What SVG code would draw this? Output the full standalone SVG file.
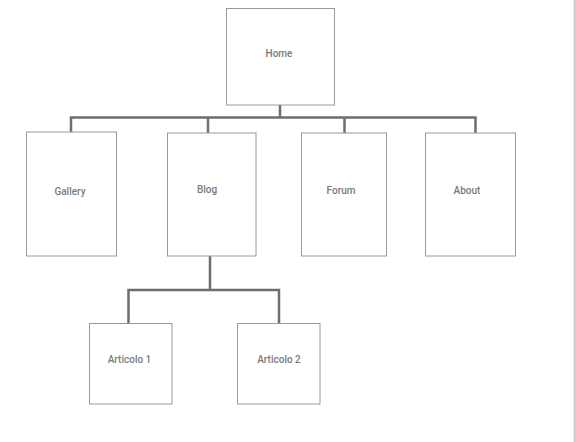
<svg xmlns="http://www.w3.org/2000/svg" width="576" height="442" viewBox="0 0 576 442">
<style>
.box{fill:#fff;stroke:#9a9a9a;stroke-width:1}
.lbl{font-family:Roboto,"Liberation Sans",sans-serif;font-size:10px;font-weight:500;fill:#7a7a7a;text-anchor:middle;dominant-baseline:central}
.conn{fill:none;stroke:#6e6e6e;stroke-width:2.5;stroke-linejoin:miter}
</style>
<rect x="0" y="0" width="576" height="442" fill="#fff"/>
<rect x="573.5" y="0" width="2.5" height="442" fill="#cfcfcf"/>
<g id="connectors">
<path class="conn" d="M280,105 V117.5 M71,132 V117.5 H475.5 V133 M208,117.5 V133 M344.5,117.5 V133"/>
<path class="conn" d="M210,256 V290 M128.5,324 V290 H279 V324"/>
</g>
<g id="home"><rect class="box" x="226.5" y="8.5" width="108" height="96.5"/><text class="lbl" x="279" y="53">Home</text></g>
<g id="gallery"><rect class="box" x="26.5" y="132" width="90" height="124"/><text class="lbl" x="70" y="191">Gallery</text></g>
<g id="blog"><rect class="box" x="167.5" y="133" width="88.5" height="123"/><text class="lbl" x="207" y="189.5">Blog</text></g>
<g id="forum"><rect class="box" x="301.5" y="133" width="85" height="123"/><text class="lbl" x="341" y="190">Forum</text></g>
<g id="about"><rect class="box" x="425.5" y="133" width="90" height="123"/><text class="lbl" x="467" y="190.5">About</text></g>
<g id="articolo1"><rect class="box" x="89.5" y="323.5" width="82.5" height="80.5"/><text class="lbl" x="129.5" y="359.5">Articolo 1</text></g>
<g id="articolo2"><rect class="box" x="237.5" y="323.5" width="82.5" height="80.5"/><text class="lbl" x="279" y="359">Articolo 2</text></g>
</svg>
